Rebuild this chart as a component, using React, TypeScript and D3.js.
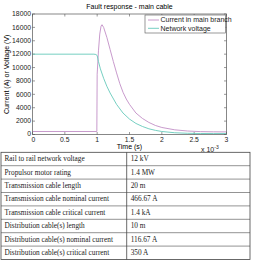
import React, { useEffect, useRef } from 'react';
import * as d3 from 'd3';

// time in ms (axis labelled with x10^-3 s)
const currentTime = [0, 0.995, 1.0, 1.02, 1.04, 1.06, 1.075, 1.1, 1.15, 1.2, 1.25, 1.3, 1.35, 1.4, 1.45, 1.5, 1.6, 1.7, 1.8, 1.9, 2.0, 2.2, 2.4, 2.6, 2.8, 3.0];
const currentValues = [450, 450, 9000, 12500, 15000, 16200, 16400, 16000, 14500, 12700, 10900, 9200, 7600, 6300, 5300, 4500, 3200, 2400, 1800, 1350, 1050, 700, 520, 430, 400, 390];

const voltageTime = [0, 0.95, 0.98, 1.0, 1.02, 1.05, 1.1, 1.15, 1.2, 1.3, 1.4, 1.5, 1.6, 1.7, 1.8, 1.9, 2.0, 2.2, 2.4, 2.6, 2.8, 3.0];
const voltageValues = [12000, 12000, 11950, 11800, 10900, 9800, 8400, 7200, 6200, 4500, 3200, 2300, 1650, 1200, 850, 620, 450, 260, 180, 150, 140, 140];

const seriesNames = ['Current in main branch', 'Network voltage'];
const seriesColors = ['#c28fc6', '#66cabb'];

const xTicks = [0, 0.5, 1, 1.5, 2, 2.5, 3];
const yTicks = [0, 2000, 4000, 6000, 8000, 10000, 12000, 14000, 16000, 18000];

const paramNames = [
  'Rail to rail network voltage',
  'Propulsor motor rating',
  'Transmission cable length',
  'Transmission cable nominal current',
  'Transmission cable critical current',
  'Distribution cable(s) length',
  'Distribution cable(s) nominal current',
  'Distribution cable(s) critical current',
];
const paramValues = ['12 kV', '1.4 MW', '20 m', '466.67 A', '1.4 kA', '10 m', '116.67 A', '350 A'];

const W = 253;
const H = 264;
const plot = { left: 32.5, right: 226.5, top: 14, bottom: 134.5 };
const sans = 'Liberation Sans, Arial, sans-serif';
const serif = 'Liberation Serif, Times New Roman, serif';

export default function App() {
  const ref = useRef<SVGSVGElement>(null);

  useEffect(() => {
    const svg = d3.select(ref.current);
    svg.selectAll('*').remove();

    const x = d3.scaleLinear().domain([0, 3]).range([plot.left, plot.right]);
    const y = d3.scaleLinear().domain([0, 18000]).range([plot.bottom, plot.top]);

    svg.append('rect').attr('width', W).attr('height', H).attr('fill', '#fff');

    // title
    svg.append('text')
      .attr('x', (plot.left + plot.right) / 2).attr('y', 9)
      .attr('text-anchor', 'middle')
      .attr('font-family', sans).attr('font-size', 7)
      .text('Fault response - main cable');

    const g = svg.append('g');
    const tickLen = 2.5;

    // ticks on all four sides, pointing in
    xTicks.forEach((t) => {
      g.append('line').attr('x1', x(t)).attr('x2', x(t)).attr('y1', plot.bottom).attr('y2', plot.bottom - tickLen)
        .attr('stroke', '#555').attr('stroke-width', 0.6);
      g.append('line').attr('x1', x(t)).attr('x2', x(t)).attr('y1', plot.top).attr('y2', plot.top + tickLen)
        .attr('stroke', '#555').attr('stroke-width', 0.6);
      g.append('text')
        .attr('x', x(t) + (t === 0 ? 1 : 0)).attr('y', plot.bottom + 7)
        .attr('text-anchor', 'middle')
        .attr('font-family', sans).attr('font-size', 6.8).attr('fill', '#222')
        .text(String(t));
    });
    yTicks.forEach((v) => {
      g.append('line').attr('x1', plot.left).attr('x2', plot.left + tickLen).attr('y1', y(v)).attr('y2', y(v))
        .attr('stroke', '#555').attr('stroke-width', 0.6);
      g.append('line').attr('x1', plot.right).attr('x2', plot.right - tickLen).attr('y1', y(v)).attr('y2', y(v))
        .attr('stroke', '#555').attr('stroke-width', 0.6);
      g.append('text')
        .attr('x', plot.left - 1.5).attr('y', y(v) + 2.3 - (v === 0 ? 1 : 0))
        .attr('text-anchor', 'end')
        .attr('font-family', sans).attr('font-size', 6.8).attr('fill', '#222')
        .text(String(v));
    });

    const line = d3.line<[number, number]>()
      .x((d) => x(d[0]))
      .y((d) => y(d[1]));

    const currentPts = currentTime.map((t, i) => [t, currentValues[i]] as [number, number]);
    const voltagePts = voltageTime.map((t, i) => [t, voltageValues[i]] as [number, number]);

    g.append('path').attr('d', line(currentPts))
      .attr('fill', 'none').attr('stroke', seriesColors[0]).attr('stroke-width', 0.9);
    g.append('path').attr('d', line(voltagePts))
      .attr('fill', 'none').attr('stroke', seriesColors[1]).attr('stroke-width', 0.9);

    // axes box
    g.append('rect')
      .attr('x', plot.left).attr('y', plot.top)
      .attr('width', plot.right - plot.left).attr('height', plot.bottom - plot.top)
      .attr('fill', 'none').attr('stroke', '#555').attr('stroke-width', 0.7);

    // axis labels
    svg.append('text')
      .attr('x', (plot.left + plot.right) / 2).attr('y', 148.5)
      .attr('text-anchor', 'middle')
      .attr('font-family', sans).attr('font-size', 7)
      .text('Time (s)');
    const expo = svg.append('text')
      .attr('x', 201).attr('y', 151.5)
      .attr('font-family', sans).attr('font-size', 7).attr('fill', '#222');
    expo.append('tspan').text('x 10');
    expo.append('tspan').attr('dy', -3).attr('font-size', 5).text('-3');

    svg.append('text')
      .attr('transform', `translate(9,${(plot.top + plot.bottom) / 2}) rotate(-90)`)
      .attr('text-anchor', 'middle')
      .attr('font-family', sans).attr('font-size', 7)
      .text('Current (A) or Voltage (V)');

    // legend
    const lg = svg.append('g').attr('transform', 'translate(145,15)');
    lg.append('rect').attr('width', 80.5).attr('height', 18)
      .attr('fill', '#fff').attr('stroke', '#555').attr('stroke-width', 0.6);
    seriesNames.forEach((name, i) => {
      const ly = 5 + i * 8.3;
      lg.append('line').attr('x1', 3).attr('x2', 14).attr('y1', ly).attr('y2', ly)
        .attr('stroke', seriesColors[i]).attr('stroke-width', 0.9);
      lg.append('text').attr('x', 15.5).attr('y', ly + 2.4)
        .attr('font-family', sans).attr('font-size', 7).attr('fill', '#222')
        .text(name);
    });

    // parameter table
    const tTop = 152.3;
    const rowH = 13.4;
    const tLeft = 1;
    const tRight = 250;
    const tMid = 126.7;
    const tb = svg.append('g');
    paramNames.forEach((name, i) => {
      const ry = tTop + i * rowH;
      tb.append('text').attr('x', tLeft + 3.5).attr('y', ry + 8.8)
        .attr('font-family', serif).attr('font-size', 7.3).attr('fill', '#222')
        .text(name);
      tb.append('text').attr('x', tMid + 4).attr('y', ry + 8.8)
        .attr('font-family', serif).attr('font-size', 7.3).attr('fill', '#222')
        .text(paramValues[i]);
      if (i > 0) {
        tb.append('line').attr('x1', tLeft).attr('x2', tRight).attr('y1', ry).attr('y2', ry)
          .attr('stroke', '#666').attr('stroke-width', 0.7);
      }
    });
    const tBottom = tTop + paramNames.length * rowH;
    tb.append('rect').attr('x', tLeft).attr('y', tTop)
      .attr('width', tRight - tLeft).attr('height', tBottom - tTop)
      .attr('fill', 'none').attr('stroke', '#444').attr('stroke-width', 0.8);
    tb.append('line').attr('x1', tMid).attr('x2', tMid).attr('y1', tTop).attr('y2', tBottom)
      .attr('stroke', '#444').attr('stroke-width', 0.8);
  }, []);

  return (
    <svg
      ref={ref}
      width={W}
      height={H}
      style={{ position: 'absolute', left: 0, top: 0, display: 'block' }}
    />
  );
}
